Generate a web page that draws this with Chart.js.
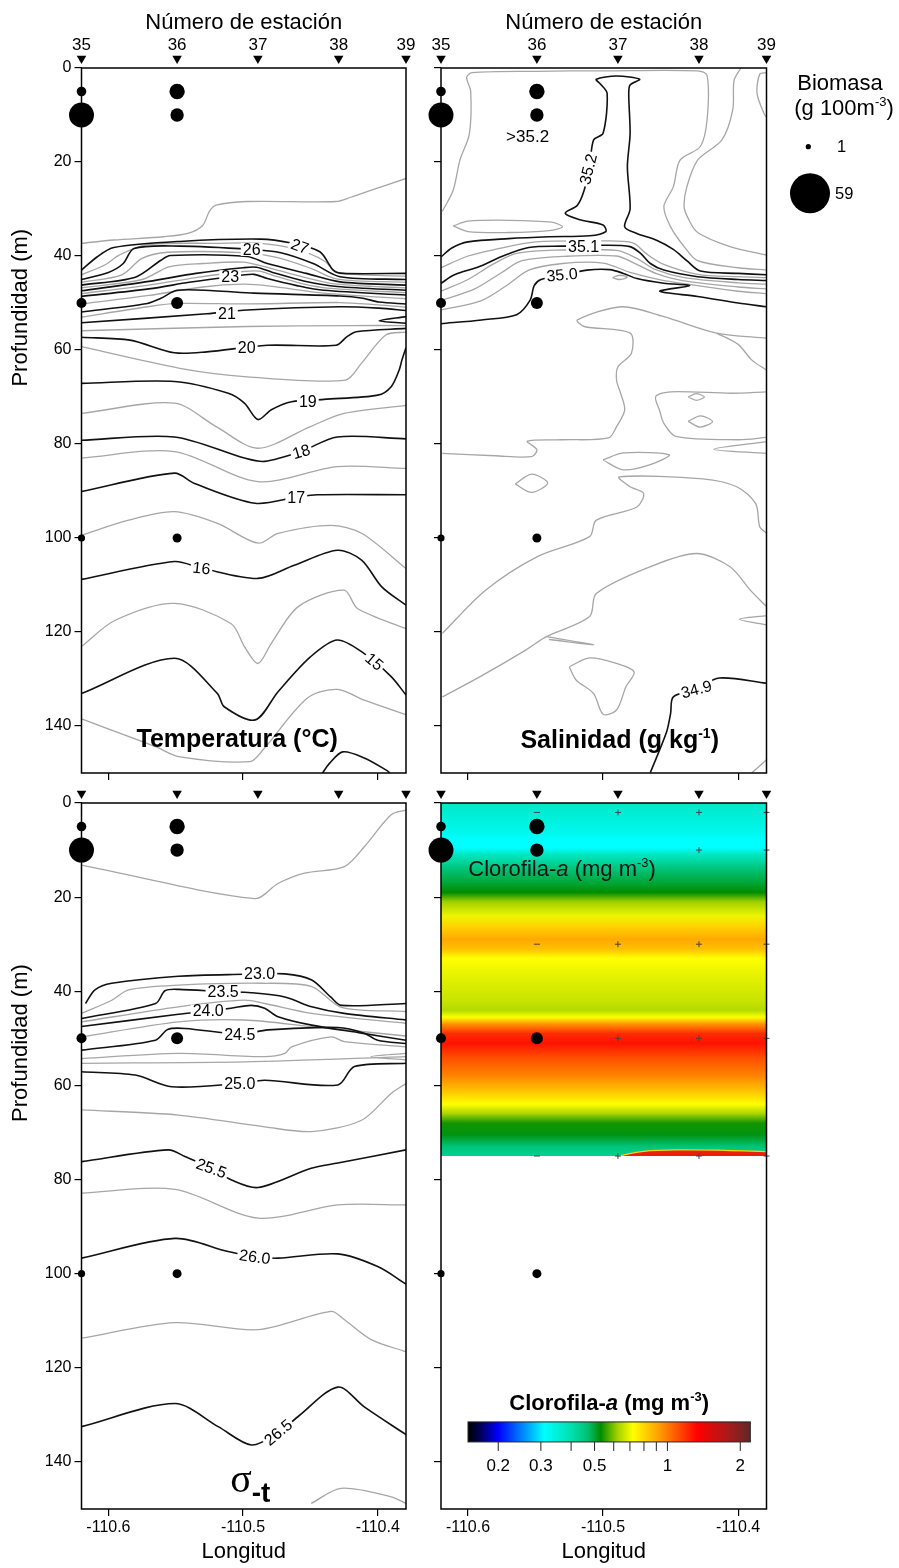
<!DOCTYPE html>
<html>
<head>
<meta charset="utf-8">
<title>Sección estaciones 35-39</title>
<script src="https://cdn.jsdelivr.net/npm/chart.js@4.4.1/dist/chart.umd.min.js"></script>
<style>
  body { margin: 0; background: #fff; }
  #wrap { position: relative; width: 899px; height: 1568px; overflow: hidden; background: #fff; }
  canvas { position: absolute; }
</style>
</head>
<body>
<div id="wrap">
  <canvas id="temp" width="420" height="790" style="left:0;top:0"></canvas>
  <canvas id="sal" width="479" height="790" style="left:420px;top:0"></canvas>
  <canvas id="sigma" width="420" height="790" style="left:0;top:778px"></canvas>
  <canvas id="chl" width="479" height="790" style="left:420px;top:778px"></canvas>
</div>
<script>
// Stations along the section
const stationNum = [35, 36, 37, 38, 39];
const stationLon = [-110.62, -110.549, -110.489, -110.429, -110.379];

// Biomass (g 100m-3) at station / depth
const bioLon = [-110.62, -110.62, -110.549, -110.549, -110.62, -110.549, -110.62, -110.549];
const bioDepth = [5, 10, 5, 10, 50, 50, 100, 100];
const bioValue = [3.4, 23, 8.7, 6.6, 3.7, 5.3, 1.9, 3.0];
const legendValues = [1, 59];

// Axes
const lonTicks = [-110.6, -110.5, -110.4];
const depthTicks = [0, 20, 40, 60, 80, 100, 120, 140];
const lonMin = -110.62, lonMax = -110.379, depthMax = 150;

// Temperature isolines (lon, depth)
const tempBlack = [
  [[-110.62,43.0],[-110.608,40.1],[-110.596,38.2],[-110.547,36.9],[-110.487,36.4],[-110.465,37.2],[-110.443,39.1],[-110.433,43.0],[-110.426,43.7],[-110.379,43.7]],
  [[-110.62,45.0],[-110.6,43.5],[-110.589,41.6],[-110.581,38.4],[-110.547,37.9],[-110.494,38.6],[-110.472,39.3],[-110.448,41.6],[-110.428,44.4],[-110.379,45.0]],
  [[-110.62,46.2],[-110.58,44.5],[-110.561,40.9],[-110.554,39.9],[-110.497,40.1],[-110.482,41.6],[-110.453,43.7],[-110.428,45.5],[-110.379,46.2]],
  [[-110.62,47.4],[-110.57,45.4],[-110.535,43.7],[-110.50,42.5],[-110.49,42.4],[-110.478,43.5],[-110.455,45.3],[-110.43,46.5],[-110.379,47.3]],
  [[-110.62,48.6],[-110.57,47.0],[-110.54,45.6],[-110.51,44.4],[-110.492,43.9],[-110.482,44.8],[-110.46,46.3],[-110.44,47.3],[-110.379,48.3]],
  [[-110.62,51.9],[-110.571,50.1],[-110.561,49.0],[-110.549,47.3],[-110.522,47.4],[-110.492,47.9],[-110.428,48.5],[-110.411,49.0],[-110.399,49.8],[-110.379,50.2]],
  [[-110.62,54.2],[-110.527,52.3],[-110.497,51.5],[-110.428,50.8],[-110.399,51.1],[-110.379,51.6]],
  [[-110.379,52.9],[-110.399,53.8],[-110.379,54.3]],
  [[-110.62,57.3],[-110.584,57.9],[-110.551,60.6],[-110.527,60.4],[-110.482,59.0],[-110.431,59.0],[-110.423,57.2],[-110.416,56.1],[-110.379,55.4]],
  [[-110.62,67.1],[-110.551,66.7],[-110.511,69.2],[-110.499,71.3],[-110.489,74.8],[-110.479,72.7],[-110.464,71.0],[-110.44,70.5],[-110.40,69.6],[-110.39,67.8],[-110.384,64.2],[-110.382,62.1],[-110.379,59.5]],
  [[-110.62,79.2],[-110.551,78.5],[-110.499,83.0],[-110.484,83.7],[-110.457,81.6],[-110.43,78.5],[-110.379,78.9]],
  [[-110.62,90.1],[-110.551,86.2],[-110.536,88.4],[-110.491,92.6],[-110.46,91.3],[-110.445,90.8],[-110.379,90.8]],
  [[-110.62,108.8],[-110.551,105.0],[-110.531,106.4],[-110.489,108.6],[-110.462,105.8],[-110.43,102.6],[-110.412,104.7],[-110.397,110.4],[-110.379,114.3]],
  [[-110.62,133.1],[-110.551,125.6],[-110.519,133.1],[-110.514,135.9],[-110.491,138.7],[-110.474,132.7],[-110.45,125.3],[-110.43,121.7],[-110.41,124.6],[-110.39,129.5],[-110.379,133.4]],
  [[-110.441,150],[-110.436,148],[-110.426,145.5],[-110.41,146.8],[-110.393,149.5],[-110.391,150]]
];
const tempGrey = [
  [[-110.62,37.3],[-110.596,36.6],[-110.559,35.9],[-110.541,35.2],[-110.53,33.5],[-110.525,30.5],[-110.52,29.2],[-110.497,28.4],[-110.431,28.4],[-110.42,27.5],[-110.408,26.3],[-110.379,23.5]],
  [[-110.62,44.0],[-110.602,41.8],[-110.592,39.8],[-110.571,37.6],[-110.52,37.3],[-110.487,37.3],[-110.46,38.6],[-110.44,41.0],[-110.43,43.5],[-110.379,44.3]],
  [[-110.62,45.6],[-110.59,44.0],[-110.575,40.5],[-110.556,39.2],[-110.50,39.3],[-110.475,40.3],[-110.45,42.6],[-110.43,44.9],[-110.379,45.6]],
  [[-110.62,46.8],[-110.575,45.0],[-110.555,42.3],[-110.53,41.6],[-110.50,41.3],[-110.485,42.2],[-110.455,44.5],[-110.43,46.0],[-110.379,46.8]],
  [[-110.62,48.0],[-110.57,46.2],[-110.535,44.6],[-110.50,43.3],[-110.488,43.2],[-110.478,44.1],[-110.457,45.8],[-110.435,46.9],[-110.379,47.8]],
  [[-110.62,50.2],[-110.57,48.4],[-110.53,46.6],[-110.50,46.0],[-110.48,46.4],[-110.44,47.9],[-110.379,49.1]],
  [[-110.62,53.0],[-110.571,50.8],[-110.549,50.1],[-110.497,50.2],[-110.428,49.9],[-110.40,50.4],[-110.379,50.9]],
  [[-110.62,55.9],[-110.497,55.0],[-110.42,54.8],[-110.379,54.8]],
  [[-110.62,59.3],[-110.547,63.9],[-110.497,65.7],[-110.424,66.4],[-110.412,62.8],[-110.394,56.8],[-110.379,56.2]],
  [[-110.62,73.5],[-110.551,71.3],[-110.52,76.3],[-110.489,80.9],[-110.45,76.3],[-110.425,73.5],[-110.379,71.8]],
  [[-110.62,83.0],[-110.551,81.6],[-110.489,88.0],[-110.43,84.8],[-110.379,85.2]],
  [[-110.62,99.4],[-110.585,96.2],[-110.551,94.4],[-110.519,96.9],[-110.489,101.1],[-110.474,99.0],[-110.435,97.3],[-110.412,99.0],[-110.379,106.5]],
  [[-110.62,123.1],[-110.595,117.5],[-110.551,113.9],[-110.509,118.2],[-110.499,123.1],[-110.489,126.7],[-110.479,122.4],[-110.459,114.6],[-110.425,111.1],[-110.415,115.0],[-110.379,119.3]],
  [[-110.62,138.5],[-110.565,144.4],[-110.548,146.5],[-110.495,147.6],[-110.485,145],[-110.452,134],[-110.43,132.2],[-110.41,134.5],[-110.379,137.6]]
];
const tempLabels = [['27',-110.4578,37.9,20],['26',-110.4936,38.6,0],['23',-110.5096,44.4,0],['21',-110.512,52.2,0],['20',-110.4973,59.4,0],
  ['19',-110.4519,71.0,0],['18',-110.4568,81.6,-16],['17',-110.4605,91.3,0],['16',-110.5309,106.4,6],['15',-110.4025,126.3,40]];

// Salinity isolines
const salBlack = [
  [[-110.62,40.2],[-110.612,38.3],[-110.6,37.0],[-110.57,36.3],[-110.54,35.9],[-110.51,35.7],[-110.498,34.8],[-110.5,33.4],[-110.517,32.3],[-110.528,30.9],[-110.519,29.2],[-110.514,26],[-110.51,21],[-110.507,15.3],[-110.5,13.9],[-110.497,5.4],[-110.502,3.4],[-110.505,2.4],[-110.49,1.7],[-110.473,2.4],[-110.48,3.6],[-110.481,5.5],[-110.48,14],[-110.482,21],[-110.48,30],[-110.484,33.8],[-110.475,35.2],[-110.46,36.7],[-110.448,38.6],[-110.438,41],[-110.428,43.2],[-110.4,43.7],[-110.379,44.0]],
  [[-110.62,45.8],[-110.61,44.0],[-110.592,42.3],[-110.575,40.1],[-110.555,38.2],[-110.53,37.9],[-110.5,37.7],[-110.48,38.0],[-110.472,39.5],[-110.465,41.6],[-110.455,43.0],[-110.43,44.4],[-110.40,45.0],[-110.379,45.2]],
  [[-110.62,54.4],[-110.59,53.6],[-110.564,52.5],[-110.554,49.4],[-110.551,46.3],[-110.546,45.0],[-110.53,44.0],[-110.512,43.0],[-110.495,42.9],[-110.485,43.7],[-110.475,44.8],[-110.455,45.8],[-110.436,46.3],[-110.458,47.5],[-110.43,48.6],[-110.40,50.0],[-110.379,50.8]],
  [[-110.379,130.9],[-110.414,129.8],[-110.431,132.2],[-110.448,133.8],[-110.45,137.3],[-110.453,141.3],[-110.465,149.9]]
];
const salGrey = [
  [[-110.619,30.5],[-110.611,26.0],[-110.606,19.6],[-110.599,14],[-110.598,5],[-110.601,2.0],[-110.597,1.0],[-110.55,0.7],[-110.5,0.6],[-110.43,0.6],[-110.423,1.6],[-110.423,11],[-110.428,16.7],[-110.443,19.6],[-110.448,25.3],[-110.455,29.5],[-110.45,33.8],[-110.44,38.0],[-110.43,41.0],[-110.4,42.5],[-110.379,43.0]],
  [[-110.398,0],[-110.403,2.6],[-110.404,8.9],[-110.412,15.3],[-110.43,19.6],[-110.438,25.3],[-110.44,29.5],[-110.437,32],[-110.43,35],[-110.406,38],[-110.379,39.8]],
  [[-110.379,1.0],[-110.384,1.3],[-110.386,5.4],[-110.381,9.6],[-110.379,10.5]],
  [[-110.611,33.6],[-110.6,32.6],[-110.57,32.4],[-110.538,32.8],[-110.53,33.8],[-110.54,34.6],[-110.57,35],[-110.6,34.8],[-110.611,33.6]],
  [[-110.62,42.5],[-110.60,40],[-110.58,38.6],[-110.55,37.0],[-110.5,36.8],[-110.478,37.2],[-110.468,39.5],[-110.455,41.8],[-110.43,43.9],[-110.40,44.4],[-110.379,44.6]],
  [[-110.62,47.5],[-110.60,45],[-110.583,42],[-110.565,39.5],[-110.54,38.8],[-110.49,38.8],[-110.475,40.5],[-110.462,42.8],[-110.44,44.6],[-110.40,45.7],[-110.379,46]],
  [[-110.62,49.5],[-110.595,47],[-110.575,43.5],[-110.56,41],[-110.53,40.1],[-110.49,40],[-110.475,41.8],[-110.46,43.8],[-110.44,45.3],[-110.40,46.6],[-110.379,47]],
  [[-110.62,51.5],[-110.59,49.5],[-110.57,46],[-110.555,43],[-110.53,41.6],[-110.5,41.5],[-110.48,43.5],[-110.46,44.9],[-110.44,45.9],[-110.40,47.5],[-110.379,48]],
  [[-110.493,44.6],[-110.488,44.1],[-110.482,44.5],[-110.488,45.0],[-110.493,44.6]],
  [[-110.379,57.5],[-110.416,56.4],[-110.455,52.9],[-110.486,50.8],[-110.519,53.6],[-110.514,55.0],[-110.48,56.4],[-110.479,60.7],[-110.489,63.6],[-110.49,66.5],[-110.487,69.2],[-110.484,72.8],[-110.49,76.3],[-110.496,78.7],[-110.53,79.1],[-110.556,79.4],[-110.549,81.2],[-110.553,82.7],[-110.58,82.5],[-110.619,82.0]],
  [[-110.416,56.4],[-110.40,58.8],[-110.39,62.1],[-110.379,64.3]],
  [[-110.379,68.9],[-110.405,69.2],[-110.45,68.9],[-110.461,69.9],[-110.458,73],[-110.455,75.6],[-110.446,78.4],[-110.40,79.1],[-110.379,78.6]],
  [[-110.437,70.0],[-110.431,69.3],[-110.425,70.0],[-110.431,70.7],[-110.437,70.0]],
  [[-110.437,75.2],[-110.428,74.0],[-110.419,75.2],[-110.428,76.4],[-110.437,75.2]],
  [[-110.379,79.5],[-110.418,81.1],[-110.379,82.0]],
  [[-110.5,83.4],[-110.485,81.9],[-110.451,82.3],[-110.465,84.4],[-110.485,85.5],[-110.5,83.4]],
  [[-110.565,88.5],[-110.553,86.4],[-110.541,88.3],[-110.553,90.3],[-110.565,88.5]],
  [[-110.379,99.0],[-110.384,97.6],[-110.387,92.7],[-110.401,89.1],[-110.426,87.4],[-110.488,87.0],[-110.48,89.1],[-110.47,90.5],[-110.475,93.4],[-110.505,96.2],[-110.51,99.7],[-110.549,104.0],[-110.587,111.1],[-110.619,120.3]],
  [[-110.619,133.8],[-110.591,129.5],[-110.557,123.8],[-110.542,121.0],[-110.51,116.7],[-110.505,111.8],[-110.465,106.1],[-110.431,103.3],[-110.406,106.1],[-110.391,111.1],[-110.379,114.6]],
  [[-110.542,121.0],[-110.507,122.7],[-110.54,121.6]],
  [[-110.379,116.5],[-110.399,117.3],[-110.379,118.5]],
  [[-110.525,127.4],[-110.51,125.5],[-110.49,126.7],[-110.477,128.5],[-110.483,131.6],[-110.49,136.6],[-110.5,137.5],[-110.507,133.1],[-110.52,130.2],[-110.525,127.4]],
  [[-110.39,150],[-110.379,147.2]]
];
const salLabels = [['35.2',-110.511,21.5,-76],['35.1',-110.5144,37.9,0],['35.0',-110.5304,44.0,-5],['34.9',-110.4309,132.2,-15]];

// Sigma-t isolines
const sigmaBlack = [
  [[-110.617,42.6],[-110.61,39.7],[-110.5975,38.3],[-110.548,36.8],[-110.5,36.4],[-110.469,36.3],[-110.449,37.6],[-110.435,41.2],[-110.427,43.0],[-110.379,42.6]],
  [[-110.62,45.8],[-110.565,42.6],[-110.558,39.9],[-110.548,39.6],[-110.515,40.1],[-110.494,40.3],[-110.469,41.2],[-110.449,43.3],[-110.425,44.7],[-110.379,46.1]],
  [[-110.62,47.5],[-110.548,44.9],[-110.526,44.2],[-110.509,43.6],[-110.494,43.0],[-110.484,43.6],[-110.474,45.4],[-110.449,47.2],[-110.412,48.9],[-110.379,50.4]],
  [[-110.62,52.5],[-110.565,50.4],[-110.556,48.1],[-110.543,47.9],[-110.5025,49.1],[-110.4815,48.2],[-110.4296,47.7],[-110.41,48.9],[-110.4,50.4],[-110.379,51.1]],
  [[-110.62,57.1],[-110.58,57.8],[-110.553,60.3],[-110.5025,59.6],[-110.484,58.9],[-110.4296,59.9],[-110.4173,56.0],[-110.379,55.3]],
  [[-110.62,76.2],[-110.5556,73.7],[-110.5432,75.1],[-110.5235,77.6],[-110.5086,80.1],[-110.4889,81.7],[-110.4494,77.6],[-110.4296,76.5],[-110.379,73.7]],
  [[-110.62,96.7],[-110.5506,92.5],[-110.5111,95.3],[-110.4913,96.4],[-110.4741,96.7],[-110.4296,95.8],[-110.4,98.5],[-110.379,102.2]],
  [[-110.62,132.5],[-110.5506,127.6],[-110.5185,132.5],[-110.4938,136.4],[-110.474,133.8],[-110.4593,130.4],[-110.4296,124.1],[-110.41,128.3],[-110.379,134.2]]
];
const sigmaGrey = [
  [[-110.62,13.2],[-110.4914,20.3],[-110.4741,17.1],[-110.4543,14.9],[-110.4247,13.5],[-110.41,9.3],[-110.39,2.5],[-110.379,1.5]],
  [[-110.62,44.7],[-110.5975,41.9],[-110.585,39.7],[-110.548,38.7],[-110.486,38.3],[-110.449,39.0],[-110.427,43.4],[-110.379,44.3]],
  [[-110.62,46.5],[-110.548,43.3],[-110.499,41.9],[-110.484,42.6],[-110.449,44.7],[-110.379,46.8]],
  [[-110.62,49.7],[-110.548,46.5],[-110.499,46.1],[-110.449,47.5],[-110.379,49.5]],
  [[-110.62,54.3],[-110.548,53.2],[-110.484,53.9],[-110.469,53.2],[-110.464,51.8],[-110.4346,49.7],[-110.4247,50.7],[-110.379,51.8]],
  [[-110.62,55.3],[-110.4988,55.0],[-110.379,53.9]],
  [[-110.379,53.2],[-110.405,53.9],[-110.379,54.6]],
  [[-110.62,65.2],[-110.548,66.3],[-110.484,68.8],[-110.449,69.8],[-110.412,67.4],[-110.39,61.7],[-110.379,59.6]],
  [[-110.62,82.9],[-110.5506,82.1],[-110.4889,88.2],[-110.4296,85.4],[-110.379,85.4]],
  [[-110.62,113.7],[-110.5506,110.4],[-110.4889,111.9],[-110.4346,108.0],[-110.4247,109.8],[-110.4049,114.0],[-110.379,116.6]],
  [[-110.4494,148.8],[-110.4272,145.6],[-110.39,147.4],[-110.379,148.8]]
];
const sigmaLabels = [['23.0',-110.4877,36.3,0],['23.5',-110.5148,40.1,0],['24.0',-110.5259,44.2,0],['24.5',-110.5025,49.1,0],
  ['25.0',-110.5025,59.6,0],['25.5',-110.5235,77.6,20],['26.0',-110.4913,96.4,8],['26.5',-110.474,133.7,-40]];

// Chlorophyll-a profile (mg m-3) by depth
const chlDepth = [0, 3, 6, 8, 9.5, 11, 14, 17, 19, 21, 24, 26, 29, 31, 33, 37, 42, 44, 45.5, 47, 49, 51, 54, 58, 61, 64, 66, 68, 70.5, 73, 75];
const chlValue = [0.37, 0.35, 0.33, 0.31, 0.31, 0.38, 0.46, 0.5, 0.53, 0.62, 0.7, 0.8, 0.9, 0.85, 0.72, 0.69, 0.66, 0.64, 0.72, 0.95, 1.2, 1.28, 1.12, 0.98, 0.85, 0.72, 0.63, 0.54, 0.52, 0.46, 0.43];
const lensLon = [-110.489, -110.47, -110.44, -110.41, -110.379];
const lensDepth = [75, 74.0, 73.7, 73.8, 74.1];
const sampleLon = [-110.549, -110.549, -110.549, -110.489, -110.489, -110.489, -110.489,
  -110.429, -110.429, -110.429, -110.429, -110.429, -110.379, -110.379, -110.379, -110.379, -110.379];
const sampleDepth = [2, 30, 75, 2, 30, 50, 75, 2, 10, 30, 50, 75, 2, 10, 30, 50, 75];

// Colour scale
const cmapValue = [0.15, 0.17, 0.2, 0.25, 0.31, 0.4, 0.47, 0.53, 0.62, 0.72, 0.92, 1.33, 1.75, 2.2];
const cmapColor = ['#000000', '#000060', '#0000ff', '#0080ff', '#00ffff', '#00e0b0', '#00c070', '#008c00', '#a0d000', '#ffff00', '#ffa000', '#ff0000', '#b01818', '#602828'];
const cbTicks = [0.2, 0.3, 0.4, 0.5, 0.6, 0.7, 0.8, 0.9, 1, 2];
const cbLabels = [0.2, 0.3, 0.5, 1, 2];

const SANS = '"Liberation Sans", Arial, sans-serif';
const SERIF = '"Liberation Serif", "DejaVu Serif", serif';
Chart.defaults.font.family = SANS;
Chart.defaults.color = '#000';

const bubbleR = v => 20 * Math.sqrt(v / 59);

function hexRgb(h) { return [1, 3, 5].map(i => parseInt(h.substr(i, 2), 16)); }
function cmap(v) {
  const lv = Math.log10(v);
  for (let i = 0; i < cmapValue.length - 1; i++) {
    const a = Math.log10(cmapValue[i]), b = Math.log10(cmapValue[i + 1]);
    if (lv <= b || i === cmapValue.length - 2) {
      const t = Math.min(1, Math.max(0, (lv - a) / (b - a)));
      const c0 = hexRgb(cmapColor[i]), c1 = hexRgb(cmapColor[i + 1]);
      return 'rgb(' + c0.map((c, k) => Math.round(c + (c1[k] - c) * t)).join(',') + ')';
    }
  }
}

// text with mixed fonts: parts = [text, font, dy]
function rich(ctx, parts, x, y, align) {
  let w = 0;
  parts.forEach(p => { ctx.font = p[1]; w += ctx.measureText(p[0]).width; });
  let cx = align === 'center' ? x - w / 2 : x;
  ctx.textAlign = 'left';
  ctx.textBaseline = 'alphabetic';
  parts.forEach(p => {
    ctx.font = p[1];
    ctx.fillText(p[0], cx, y + (p[2] || 0));
    cx += ctx.measureText(p[0]).width;
  });
}

function lineSets(list, color, width) {
  return list.map(pts => ({
    data: pts.map(p => ({ x: p[0], y: p[1] })),
    showLine: true, borderColor: color, borderWidth: width,
    pointRadius: 0, pointHoverRadius: 0, tension: 0.3, borderJoinStyle: 'round'
  }));
}

function markerSets() {
  return [
    { data: bioLon.map((x, i) => ({ x, y: bioDepth[i] })), backgroundColor: '#000', borderWidth: 0,
      pointRadius: c => bubbleR(bioValue[c.dataIndex]), pointHoverRadius: 14, clip: false },
    // station triangles just above the top frame (hover radius only widens the draw margin)
    { data: stationLon.map(x => ({ x, y: -2 })), pointStyle: 'triangle', rotation: 180, pointRadius: 5.5,
      pointHoverRadius: 14, backgroundColor: '#000', borderWidth: 0, clip: false }
  ];
}

function scalesFor(p) {
  const s = {
    x: {
      type: 'linear', position: 'bottom', min: lonMin, max: lonMax,
      afterBuildTicks: sc => { sc.ticks = lonTicks.map(v => ({ value: v })); },
      afterFit: sc => { sc.height = p.xHeight; },
      grid: { drawOnChartArea: false, drawTicks: true, tickLength: 7, color: '#000', lineWidth: 1.2 },
      border: { display: false },
      ticks: { display: !p.top, font: { size: 16 }, padding: 2, maxRotation: 0, callback: v => v.toFixed(1) },
      title: { display: !p.top, text: 'Longitud', font: { size: 22 }, padding: { top: 0, bottom: 3 } }
    },
    y: {
      type: 'linear', reverse: true, min: 0, max: depthMax,
      afterBuildTicks: sc => { sc.ticks = depthTicks.map(v => ({ value: v })); },
      afterFit: sc => { sc.width = p.yWidth; },
      grid: { drawOnChartArea: false, drawTicks: true, tickLength: 7, color: '#000', lineWidth: 1.2 },
      border: { display: false },
      ticks: { display: p.left, font: { size: 16 }, padding: 3 }
    }
  };
  if (p.top) {
    s.x2 = {
      type: 'linear', position: 'top', min: lonMin, max: lonMax,
      afterBuildTicks: sc => { sc.ticks = stationLon.map(v => ({ value: v })); },
      afterFit: sc => { sc.height = 68; },
      grid: { display: false, drawTicks: true, tickLength: 12 }, border: { display: false },
      ticks: { font: { size: 17 }, padding: 0, maxRotation: 0, autoSkip: false, callback: (v, i) => String(stationNum[i]) },
      title: { display: true, text: 'Número de estación', font: { size: 22 }, padding: { top: 10, bottom: 0 } }
    };
  }
  return s;
}

function panelPlugin(p) {
  return {
    id: 'panel',
    beforeDatasetsDraw(chart) {
      if (!p.heat) return;
      const { ctx, chartArea: a } = chart;
      const y = chart.scales.y;
      const t = y.getPixelForValue(chlDepth[0]), b = y.getPixelForValue(chlDepth[chlDepth.length - 1]);
      const g = ctx.createLinearGradient(0, t, 0, b);
      chlDepth.forEach((d, i) => g.addColorStop((y.getPixelForValue(d) - t) / (b - t), cmap(chlValue[i])));
      ctx.save();
      ctx.fillStyle = g;
      ctx.fillRect(a.left, t, a.right - a.left, b - t);
      ctx.restore();
    },
    afterDatasetsDraw(chart) {
      const { ctx, chartArea: a } = chart;
      const x = chart.scales.x, y = chart.scales.y;
      ctx.save();
      ctx.font = '16px ' + SANS;
      ctx.textAlign = 'center';
      ctx.textBaseline = 'middle';
      (p.labels || []).forEach(([t, lon, d, rot]) => {
        const w = ctx.measureText(t).width + 4;
        ctx.save();
        ctx.translate(x.getPixelForValue(lon), y.getPixelForValue(d));
        ctx.rotate(rot * Math.PI / 180);
        ctx.fillStyle = '#fff';
        ctx.fillRect(-w / 2, -6.5, w, 13);
        ctx.fillStyle = '#000';
        ctx.fillText(t, 0, 1);
        ctx.restore();
      });
      ctx.strokeStyle = '#000';
      ctx.lineWidth = 1.5;
      ctx.strokeRect(a.left, a.top, a.right - a.left, a.bottom - a.top);
      ctx.fillStyle = '#000';
      if (p.left) {
        ctx.save();
        ctx.translate(21, y.getPixelForValue(51));
        ctx.rotate(-Math.PI / 2);
        ctx.font = '22px ' + SANS;
        ctx.textAlign = 'center';
        ctx.textBaseline = 'middle';
        ctx.fillText('Profundidad (m)', 0, 0);
        ctx.restore();
      }
      if (p.draw) p.draw(ctx, x, y, a);
      ctx.restore();
    }
  };
}

function makeChart(id, p, datasets) {
  return new Chart(document.getElementById(id), {
    type: 'scatter',
    data: { datasets },
    options: {
      responsive: false, animation: false, events: [],
      layout: { padding: p.padding },
      plugins: { legend: { display: false }, tooltip: { enabled: false } },
      scales: scalesFor(p)
    },
    plugins: [panelPlugin(p)]
  });
}

const BLACK = '#111111', GREY = '#a6a6a6';

// Temperature
makeChart('temp', {
  left: true, top: true, yWidth: 81.5, xHeight: 17, padding: { left: 0, right: 13.5, top: 0, bottom: 0 },
  labels: tempLabels,
  draw: (ctx, x, y) => {
    rich(ctx, [['Temperatura (°C)', 'bold 25px ' + SANS]], x.getPixelForValue(-110.5044), y.getPixelForValue(144.5), 'center');
  }
}, [...markerSets(), ...lineSets(tempBlack, BLACK, 1.6), ...lineSets(tempGrey, GREY, 1.3)]);

// Salinity
makeChart('sal', {
  left: false, top: true, yWidth: 21, xHeight: 17, padding: { left: 0, right: 132.5, top: 0, bottom: 0 },
  labels: salLabels,
  draw: (ctx, x, y, a) => {
    ctx.fillStyle = '#000';
    rich(ctx, [['>35.2', '17px ' + SANS]], x.getPixelForValue(-110.5559), y.getPixelForValue(15.7), 'center');
    rich(ctx, [['Salinidad (g kg', 'bold 25px ' + SANS], ['-1', 'bold 14px ' + SANS, -10], [')', 'bold 25px ' + SANS]],
      x.getPixelForValue(-110.4877), y.getPixelForValue(144.7), 'center');
    // biomass legend
    rich(ctx, [['Biomasa', '22px ' + SANS]], 420, 90, 'center');
    rich(ctx, [['(g 100m', '22px ' + SANS], ['-3', '13px ' + SANS, -9], [')', '22px ' + SANS]], 424, 115, 'center');
    const ly = [146.7, 193.3];
    const lx = [388.3, 390];
    legendValues.forEach((v, i) => {
      ctx.beginPath();
      ctx.arc(lx[i], ly[i], bubbleR(v), 0, Math.PI * 2);
      ctx.fill();
      ctx.font = '16.5px ' + SANS;
      ctx.textAlign = 'left';
      ctx.textBaseline = 'middle';
      ctx.fillText(String(v), i === 0 ? 417 : 415, ly[i] + 1);
    });
  }
}, [...markerSets(), ...lineSets(salBlack, BLACK, 1.6), ...lineSets(salGrey, GREY, 1.3)]);

// Sigma-t
makeChart('sigma', {
  left: true, top: false, yWidth: 81.5, xHeight: 59, padding: { left: 0, right: 13.5, top: 25, bottom: 0 },
  labels: sigmaLabels,
  draw: (ctx, x, y) => {
    const px = x.getPixelForValue(-110.5096), py = y.getPixelForValue(146.3);
    rich(ctx, [['σ', '40px ' + SERIF], ['-t', 'bold 28px ' + SANS, 10]], px, py, 'left');
  }
}, [...markerSets(), ...lineSets(sigmaBlack, BLACK, 1.6), ...lineSets(sigmaGrey, GREY, 1.3)]);

// Chlorophyll-a
makeChart('chl', {
  left: false, top: false, yWidth: 21, xHeight: 59, padding: { left: 0, right: 132.5, top: 25, bottom: 0 },
  heat: true,
  draw: (ctx, x, y) => {
    ctx.fillStyle = '#111';
    rich(ctx, [['Clorofila-', '22px ' + SANS], ['a', 'italic 22px ' + SANS], [' (mg m', '22px ' + SANS], ['-3', '13px ' + SANS, -9], [')', '22px ' + SANS]],
      x.getPixelForValue(-110.5998), y.getPixelForValue(15.5), 'left');
    // colour bar
    const l = x.getPixelForValue(-110.6), r = x.getPixelForValue(-110.391);
    const t = y.getPixelForValue(131.5), b = t + 20;
    const lo = Math.log10(cmapValue[0]), hi = Math.log10(cmapValue[cmapValue.length - 1]);
    const pos = v => l + (Math.log10(v) - lo) / (hi - lo) * (r - l);
    const g = ctx.createLinearGradient(l, 0, r, 0);
    cmapValue.forEach((v, i) => g.addColorStop((pos(v) - l) / (r - l), cmapColor[i]));
    ctx.fillStyle = g;
    ctx.fillRect(l, t, r - l, b - t);
    ctx.strokeStyle = '#222';
    ctx.lineWidth = 1;
    ctx.strokeRect(l, t, r - l, b - t);
    ctx.beginPath();
    cbTicks.forEach(v => { ctx.moveTo(pos(v), b); ctx.lineTo(pos(v), b + 9); });
    ctx.stroke();
    ctx.fillStyle = '#000';
    ctx.font = '17px ' + SANS;
    ctx.textAlign = 'center';
    ctx.textBaseline = 'middle';
    cbLabels.forEach(v => ctx.fillText(String(v), pos(v), b + 24));
    rich(ctx, [['Clorofila-', 'bold 22px ' + SANS], ['a', 'bold italic 22px ' + SANS], [' (mg m', 'bold 22px ' + SANS],
      ['-3', 'bold 13px ' + SANS, -9], [')', 'bold 22px ' + SANS]], (l + r) / 2, t - 12, 'center');
  }
}, [
  ...markerSets(),
  { data: sampleLon.map((x, i) => ({ x, y: sampleDepth[i] })), pointStyle: c => sampleLon[c.dataIndex] < -110.52 ? 'line' : 'cross',
    pointRadius: 3, pointHoverRadius: 6, borderColor: '#444', borderWidth: 1, clip: false },
  { data: lensLon.map((x, i) => ({ x, y: lensDepth[i] })), showLine: true, pointRadius: 0, tension: 0.4,
    borderColor: '#ffd400', borderWidth: 1.2, backgroundColor: '#e8200a', fill: { value: 75 } }
]);
</script>
</body>
</html>
